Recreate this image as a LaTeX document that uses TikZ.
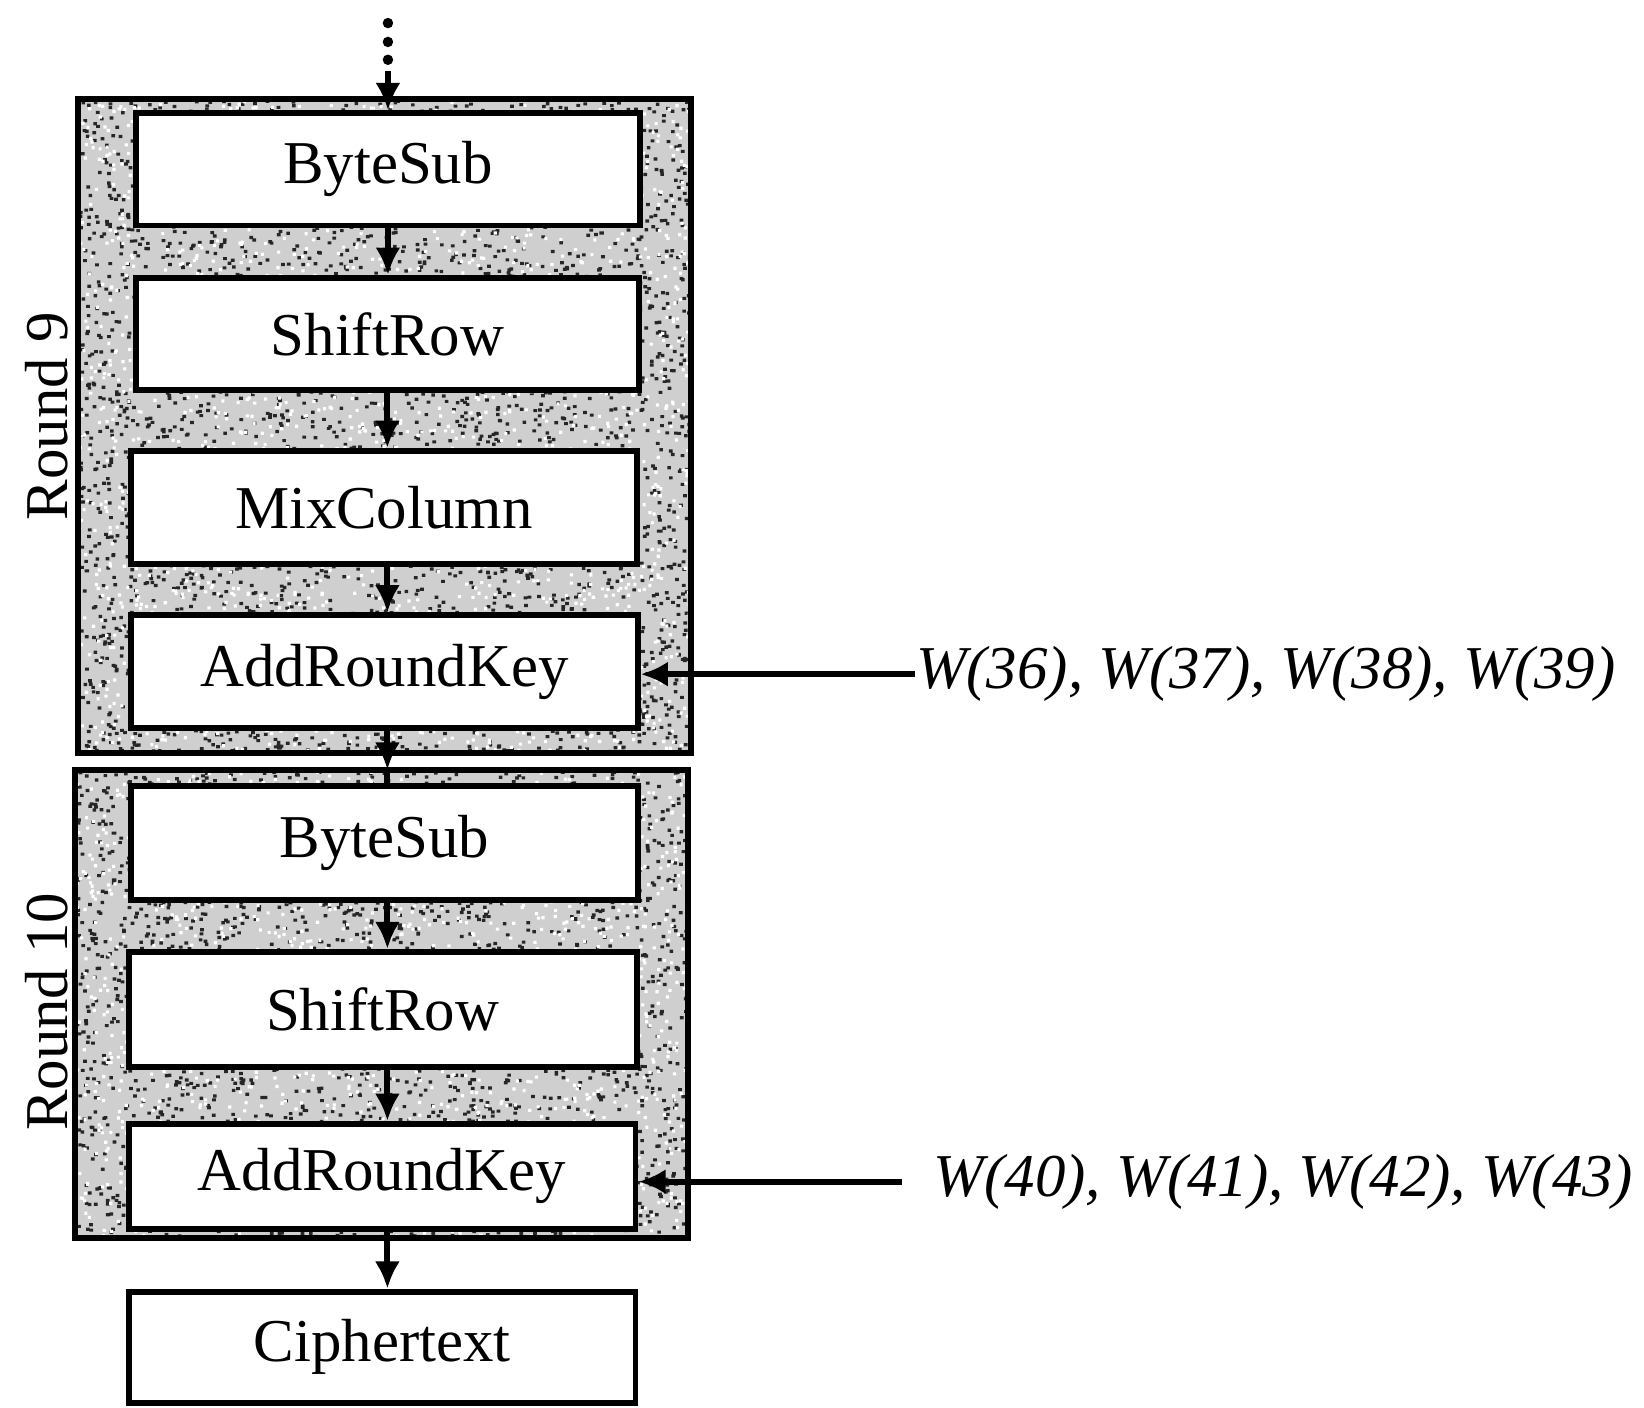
\documentclass[tikz,border=0pt]{standalone}
\usepackage{fontspec}
\setmainfont{Liberation Serif}
\usetikzlibrary{arrows.meta}
\begin{document}
\begin{tikzpicture}[x=0.01cm,y=-0.01cm,
  stage/.style={draw, line width=1.6pt, fill=white, inner sep=0pt,
    font=\fontsize{16.5}{20}\selectfont},
  roundbg/.style={fill=gray!38, inner sep=0pt},
  border/.style={line width=1.6pt},
  arr/.style={line width=1.6pt, -{Latex[length=0.26cm,width=0.24cm]}},
  keytxt/.style={font=\fontsize{16.5}{20}\selectfont\itshape, inner sep=0pt, anchor=west},
  rlabel/.style={rotate=90, font=\fontsize{16.5}{20}\selectfont, inner sep=0pt}]
\useasboundingbox (0,0) rectangle (1568,1342);

% stippled round frames
\node[roundbg, minimum width=5.83cm, minimum height=6.22cm] (r9) at (366.5,406) {};
\node[roundbg, minimum width=5.83cm, minimum height=4.45cm] (r10) at (363.5,957.5) {};
\pgfmathsetseed{42}
\begin{scope}
  \clip (r9.north west) rectangle (r9.south east);
  \fill[black!85] foreach \i in {1,...,3600} {(75+583*rnd,95+622*rnd) rectangle ++(3.5,3)};
  \fill[white] foreach \i in {1,...,2200} {(75+583*rnd,95+622*rnd) rectangle ++(3,3)};
\end{scope}
\begin{scope}
  \clip (r10.north west) rectangle (r10.south east);
  \fill[black!85] foreach \i in {1,...,2600} {(72+583*rnd,735+445*rnd) rectangle ++(3.5,3)};
  \fill[white] foreach \i in {1,...,1600} {(72+583*rnd,735+445*rnd) rectangle ++(3,3)};
\end{scope}
\draw[border] (r9.north west) rectangle (r9.south east);
\draw[border] (r10.north west) rectangle (r10.south east);

% round 9 stages
\node[stage, minimum width=4.80cm, minimum height=1.07cm] (bs9)  at (370,161.5) {ByteSub};
\node[stage, minimum width=4.79cm, minimum height=1.07cm] (sr9)  at (369.5,318.5) {ShiftRow};
\node[stage, minimum width=4.82cm, minimum height=1.08cm] (mc9)  at (366,484) {MixColumn};
\node[stage, minimum width=4.83cm, minimum height=1.07cm] (ark9) at (366.5,640.5) {AddRoundKey};

% round 10 stages
\node[stage, minimum width=4.83cm, minimum height=1.08cm] (bs10)  at (366.5,804) {ByteSub};
\node[stage, minimum width=4.84cm, minimum height=1.10cm] (sr10)  at (365,963) {ShiftRow};
\node[stage, minimum width=4.83cm, minimum height=1.00cm] (ark10) at (364.5,1122) {AddRoundKey};

% output
\node[stage, minimum width=4.83cm, minimum height=1.06cm] (ct) at (364.5,1285) {Ciphertext};

% round labels
\node[rlabel] (lab9) at (45,397) {Round 9};
\node[rlabel] (lab10) at (45,965) {Round 10};

% incoming data from the previous rounds
\foreach \yy in {22,40,57}{ \fill (bs9.north |- 0,\yy) circle (5); }
\coordinate (in) at (bs9.north |- 0,68);
\draw[arr] (in) -- (bs9.north);

% data path
\draw[arr] (bs9.south) -- (sr9.north -| bs9.south);
\draw[arr] (sr9.south) -- (mc9.north -| sr9.south);
\draw[arr] (mc9.south -| sr9.south) -- (ark9.north -| sr9.south);
\draw[arr] (ark9.south -| sr9.south) -- (r10.north -| sr9.south);
\draw[border] (r10.north -| sr9.south) -- (bs10.north -| sr9.south);
\draw[arr] (bs10.south -| sr9.south) -- (sr10.north -| sr9.south);
\draw[arr] (sr10.south -| sr9.south) -- (ark10.north -| sr9.south);
\draw[arr] (ark10.south -| sr9.south) -- (ct.north -| sr9.south);

% round keys
\node[keytxt] (w9) at (873,643) {W(36), W(37), W(38), W(39)};
\node[keytxt] (w10) at (890,1127) {W(40), W(41), W(42), W(43)};
\coordinate (k10) at (860,1127);
\draw[arr] (w9.west) -- (w9.west -| ark9.east);
\draw[arr] (k10) -- (k10 -| ark10.east);
\end{tikzpicture}
\end{document}
